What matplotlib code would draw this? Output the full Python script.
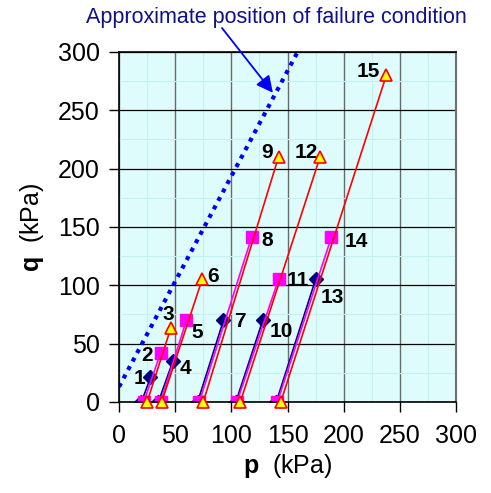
import matplotlib
matplotlib.use('Agg')
import matplotlib.pyplot as plt
from matplotlib.ticker import MultipleLocator

plt.rcParams['font.family'] = ['Liberation Sans', 'DejaVu Sans']
plt.rcParams['mathtext.fontset'] = 'custom'
plt.rcParams['mathtext.bf'] = 'Liberation Sans:bold'
plt.rcParams['mathtext.rm'] = 'Liberation Sans'

# stress paths: start p0 (q=0) and end point (p, q)
navy_p0 = [20, 35, 70, 104, 140]
navy_p = [28, 48, 93, 128, 175]
navy_q = [21, 35, 70, 70, 105]
navy_labels = ['1', '4', '7', '10', '13']

sq_p0 = [22, 37, 71.5, 105, 141]
sq_p = [37, 60, 118, 142, 189]
sq_q = [42, 70, 141, 105, 141]
sq_labels = ['2', '5', '8', '11', '14']

tri_p0 = [25, 38, 75, 108, 144]
tri_p = [46, 74, 142, 179, 238]
tri_q = [63, 105, 210, 210, 280]
tri_labels = ['3', '6', '9', '12', '15']

failure_p = [0, 159]
failure_q = [13, 300]

# label offsets in points (dx, dy)
navy_off = [(-8, -1), (9, -5), (12, -1), (13, -8), (12, -13)]
sq_off = [(-10, -2), (8, -9), (11, -2), (14, -1), (18, -3)]
tri_off = [(-2, 10), (8, 2), (-8, 3), (-10, 3), (-13, 3)]

fig = plt.figure(figsize=(4.91, 4.93), dpi=100)
ax = fig.add_axes([0.2424, 0.1846, 0.6863, 0.71])
ax.set_facecolor('#dffcfc')

ax.set_xlim(0, 300)
ax.set_ylim(0, 300)
ax.xaxis.set_major_locator(MultipleLocator(50))
ax.yaxis.set_major_locator(MultipleLocator(50))
ax.xaxis.set_minor_locator(MultipleLocator(25))
ax.yaxis.set_minor_locator(MultipleLocator(25))
ax.grid(which='minor', color='#c2f1f1', lw=0.8)
ax.xaxis.grid(which='major', color='#6a6a6a', lw=1.0)
ax.yaxis.grid(which='major', color='black', lw=0.9)
ax.set_axisbelow(True)
ax.tick_params(which='minor', length=0)
ax.tick_params(which='major', direction='out', length=7, width=1, labelsize=18)
ax.tick_params(axis='x', pad=9)
ax.tick_params(axis='y', pad=7)
for s in ['left', 'bottom', 'top']:
    ax.spines[s].set_linewidth(1.2)
ax.spines['right'].set_color('#707070')
ax.spines['right'].set_linewidth(1.5)

ax.plot(failure_p, failure_q, color='#0000ff', lw=3, ls=(0, (1, 1.3)))

for i in range(len(navy_p)):
    ax.plot([navy_p0[i], navy_p[i]], [0, navy_q[i]], color='#000080', lw=1.2,
            marker='D', ms=7, mfc='#000080', mec='#000080')
for i in range(len(sq_p)):
    ax.plot([sq_p0[i], sq_p[i]], [0, sq_q[i]], color='#ff00ff', lw=1.2,
            marker='s', ms=8.5, mfc='#ff00ff', mec='#ff00ff')
for i in range(len(tri_p)):
    ax.plot([tri_p0[i], tri_p[i]], [0, tri_q[i]], color='#ff0000', lw=1.2,
            marker='^', ms=8.5, mfc='#ffff00', mec='#ff0000', mew=1.2,
            clip_on=False, zorder=4)

for xs, ys, labs, offs in [(navy_p, navy_q, navy_labels, navy_off),
                           (sq_p, sq_q, sq_labels, sq_off),
                           (tri_p, tri_q, tri_labels, tri_off)]:
    for x, y, t, o in zip(xs, ys, labs, offs):
        ax.annotate(t, (x, y), xytext=o, textcoords='offset points',
                    ha='center', va='center', fontsize=15, fontweight='bold')

ax.set_xlabel(r'$\mathbf{p}$  (kPa)', fontsize=18, labelpad=3)
ax.set_ylabel(r'$\mathbf{q}$  (kPa)', fontsize=18, labelpad=8)

fig.text(0.562, 1 - 18 / 493, 'Approximate position of failure condition',
         ha='center', va='center', fontsize=15.5, color='#10108a')
ax.annotate('', xy=(137, 265), xytext=(222 / 491, 1 - 28 / 493),
            textcoords='figure fraction', annotation_clip=False,
            arrowprops=dict(arrowstyle='-|>', color='#0000ff', lw=1.3,
                            mutation_scale=25, shrinkA=0, shrinkB=0))

fig.savefig('out.png', dpi=100)
